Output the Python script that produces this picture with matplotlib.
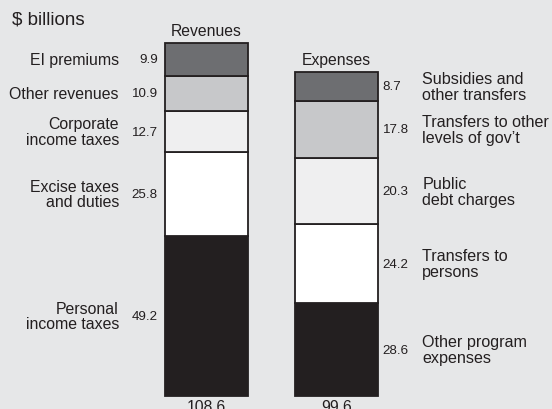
import numpy as np
import matplotlib.pyplot as plt

plt.rcParams['font.family'] = ['Liberation Sans', 'DejaVu Sans']

# revenues, bottom to top
rev_labels = ["Personal\nincome taxes", "Excise taxes\nand duties", "Corporate\nincome taxes",
              "Other revenues", "EI premiums"]
rev_values = [49.2, 25.8, 12.7, 10.9, 9.9]
rev_total = 108.6

# expenses, bottom to top
exp_labels = ["Other program\nexpenses", "Transfers to\npersons", "Public\ndebt charges",
              "Transfers to other\nlevels of gov\u2019t", "Subsidies and\nother transfers"]
exp_values = [28.6, 24.2, 20.3, 17.8, 8.7]
exp_total = 99.6

shades = ["#231f20", "#ffffff", "#efeff0", "#c7c8ca", "#6d6e71"]
bg = "#e6e7e8"
ink = "#231f20"

fig = plt.figure(figsize=(5.52, 4.10), dpi=100, facecolor=bg)
ax = fig.add_axes([0, 0, 1, 1])
ax.set_facecolor(bg)
ax.set_xlim(-1.588, 2.658)
ax.set_ylim(-4.0, 122.15)
ax.axis('off')

w = 0.64


def stack(x, values):
    bottom = 0
    mids = []
    for v, c in zip(values, shades):
        ax.bar(x, v, width=w, bottom=bottom, color=c, edgecolor=ink, linewidth=1.3)
        mids.append(bottom + v / 2)
        bottom += v
    return mids


rev_mid = stack(0, rev_values)
exp_mid = stack(1, exp_values)

for lab, v, m in zip(rev_labels, rev_values, rev_mid):
    ax.text(-0.673, m, lab, ha='right', va='center', fontsize=11.4, color=ink, linespacing=1.05)
    ax.text(-0.373, m, f"{v}", ha='right', va='center', fontsize=9.6, color=ink)

for lab, v, m in zip(exp_labels, exp_values, exp_mid):
    ax.text(1.355, m, f"{v}", ha='left', va='center', fontsize=9.6, color=ink)
    ax.text(1.66, m, lab, ha='left', va='center', fontsize=11.6, color=ink, linespacing=1.05)

ax.text(0, sum(rev_values) + 1.5, "Revenues", ha='center', va='bottom', fontsize=11.3, color=ink)
ax.text(1, sum(exp_values) + 1.5, "Expenses", ha='center', va='bottom', fontsize=11.3, color=ink)
ax.text(0, -1.0, f"{rev_total}", ha='center', va='top', fontsize=11.3, color=ink)
ax.text(1, -1.0, f"{exp_total}", ha='center', va='top', fontsize=11.3, color=ink)

fig.text(12 / 552, 1 - 20 / 410, "$ billions", ha='left', va='center', fontsize=13.5, color=ink)

fig.savefig("out.png", dpi=100, facecolor=bg)
